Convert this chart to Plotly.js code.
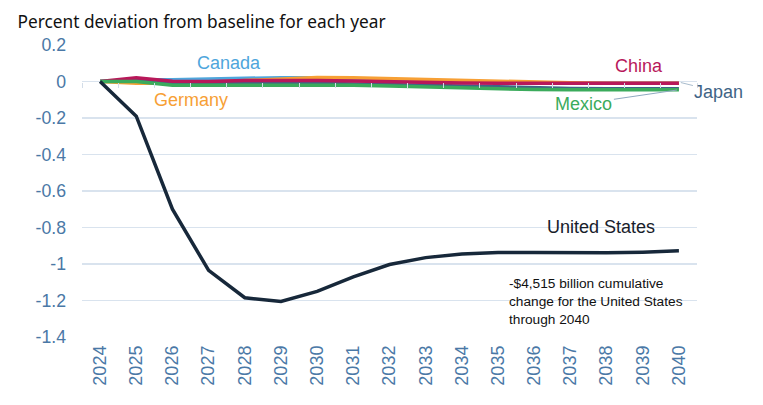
<!DOCTYPE html>
<html>
<head>
<meta charset="utf-8">
<script src="https://cdn.plot.ly/plotly-3.0.1.min.js"></script>
<style>html,body{margin:0;padding:0;background:#fff;}#chart{width:763px;height:405px;}</style>
</head>
<body>
<div id="chart"></div>
<script>
var years = ["2024","2025","2026","2027","2028","2029","2030","2031","2032","2033","2034","2035","2036","2037","2038","2039","2040"];
var unitedStates = [0,-0.19,-0.70,-1.035,-1.185,-1.205,-1.15,-1.07,-1.003,-0.965,-0.945,-0.937,-0.937,-0.938,-0.938,-0.935,-0.928];
var canada  = [0,0.01,0.01,0.015,0.018,0.02,0.02,0.015,0.01,0.005,0,-0.005,-0.008,-0.01,-0.01,-0.01,-0.01];
var germany = [0,-0.01,-0.01,-0.005,0.005,0.015,0.022,0.02,0.015,0.01,0.005,0,-0.005,-0.007,-0.01,-0.01,-0.01];
var japan   = [0,0.005,-0.005,-0.008,-0.01,-0.01,-0.01,-0.012,-0.015,-0.02,-0.025,-0.03,-0.035,-0.038,-0.04,-0.04,-0.04];
var china   = [0,0.02,0.002,0.0,0.005,0.006,0.006,0.003,-0.002,-0.005,-0.008,-0.01,-0.01,-0.01,-0.01,-0.01,-0.01];
var mexico  = [0,0.0,-0.02,-0.02,-0.02,-0.016,-0.016,-0.02,-0.025,-0.03,-0.035,-0.04,-0.044,-0.045,-0.045,-0.045,-0.045];
var yTickVals = [0.2,0,-0.2,-0.4,-0.6,-0.8,-1,-1.2,-1.4];
var yTickText = ["0.2","0","-0.2","-0.4","-0.6","-0.8","-1","-1.2","-1.4"];

var colors = {us:"#17283a", canada:"#4ea6dc", germany:"#f7a035", japan:"#3f6486", china:"#b8185a", mexico:"#3bab5c"};
function tr(y, c, name){ return {x: years, y: y, type:"scatter", mode:"lines", name:name, line:{color:c, width:3.5}, hoverinfo:"skip"}; }
var data = [
  tr(canada, colors.canada, "Canada"),
  tr(germany, colors.germany, "Germany"),
  tr(japan, colors.japan, "Japan"),
  tr(china, colors.china, "China"),
  tr(mexico, colors.mexico, "Mexico"),
  tr(unitedStates, colors.us, "United States"),
  {x: years, y: years.map(function(){return null;}), xaxis:"x2", type:"scatter", mode:"lines", showlegend:false, hoverinfo:"skip"}
];
var lab = "Liberation Sans, Arial, sans-serif";
var tickBlue = "#4a78a6";
var layout = {
  width:763, height:405,
  margin:{l:82, r:66, t:45, b:68},
  paper_bgcolor:"#fff", plot_bgcolor:"#fff",
  showlegend:false,
  title:{text:"Percent deviation from baseline for each year", x:0.023, xanchor:"left", y:0.945, yanchor:"middle", font:{family:"Noto Sans, Open Sans, sans-serif", size:17.3, color:"#111"}},
  xaxis:{type:"category", range:[-0.5,16.5], showgrid:false, zeroline:false, showline:false, ticks:"", tickangle:-90, tickfont:{family:lab, size:18, color:tickBlue}, ticklabelstandoff:4},
  xaxis2:{type:"category", overlaying:"x", anchor:"free", position:0.875, range:[-0.5,16.5], showticklabels:false, showgrid:false, zeroline:false, showline:false, ticks:"outside", ticklen:5, tickcolor:"#d3dde8", tickson:"boundaries", side:"bottom"},
  yaxis:{range:[-1.4,0.2], tickvals:yTickVals, ticktext:yTickText, showgrid:true, gridcolor:"#d9e3ee", gridwidth:1.3, zeroline:false, showline:false, tickfont:{family:lab, size:17.7, color:tickBlue}, ticklabelstandoff:15},
  annotations:[
    {x:3.55, y:0.104, xref:"x", yref:"y", text:"Canada", showarrow:false, font:{family:lab, size:18, color:colors.canada}},
    {x:2.5, y:-0.104, xref:"x", yref:"y", text:"Germany", showarrow:false, font:{family:lab, size:18, color:colors.germany}},
    {x:14.9, y:0.083, xref:"x", yref:"y", text:"China", showarrow:false, font:{family:lab, size:18, color:colors.china}},
    {x:16, y:-0.003, xref:"x", yref:"y", text:"Japan", showarrow:true, arrowhead:0, arrowwidth:1, arrowcolor:"#a9bccd", ax:40, ay:10, standoff:2, font:{family:lab, size:18, color:colors.japan}},
    {x:16, y:-0.045, xref:"x", yref:"y", text:"Mexico", showarrow:true, arrowhead:0, arrowwidth:1, arrowcolor:"#8fa9c0", ax:-95, ay:14, standoff:2, font:{family:lab, size:18, color:colors.mexico}},
    {x:13.85, y:-0.795, xref:"x", yref:"y", text:"United States", showarrow:false, font:{family:lab, size:18, color:"#17202a"}},
    {x:11.25, y:-1.055, xref:"x", yref:"y", xanchor:"left", yanchor:"top", align:"left", text:"-$4,515 billion cumulative<br>change for the United States<br>through 2040", showarrow:false, font:{family:lab, size:13.7, color:"#111"}}
  ]
};
Plotly.newPlot("chart", data, layout, {staticPlot:true, displayModeBar:false});
</script>
</body>
</html>
